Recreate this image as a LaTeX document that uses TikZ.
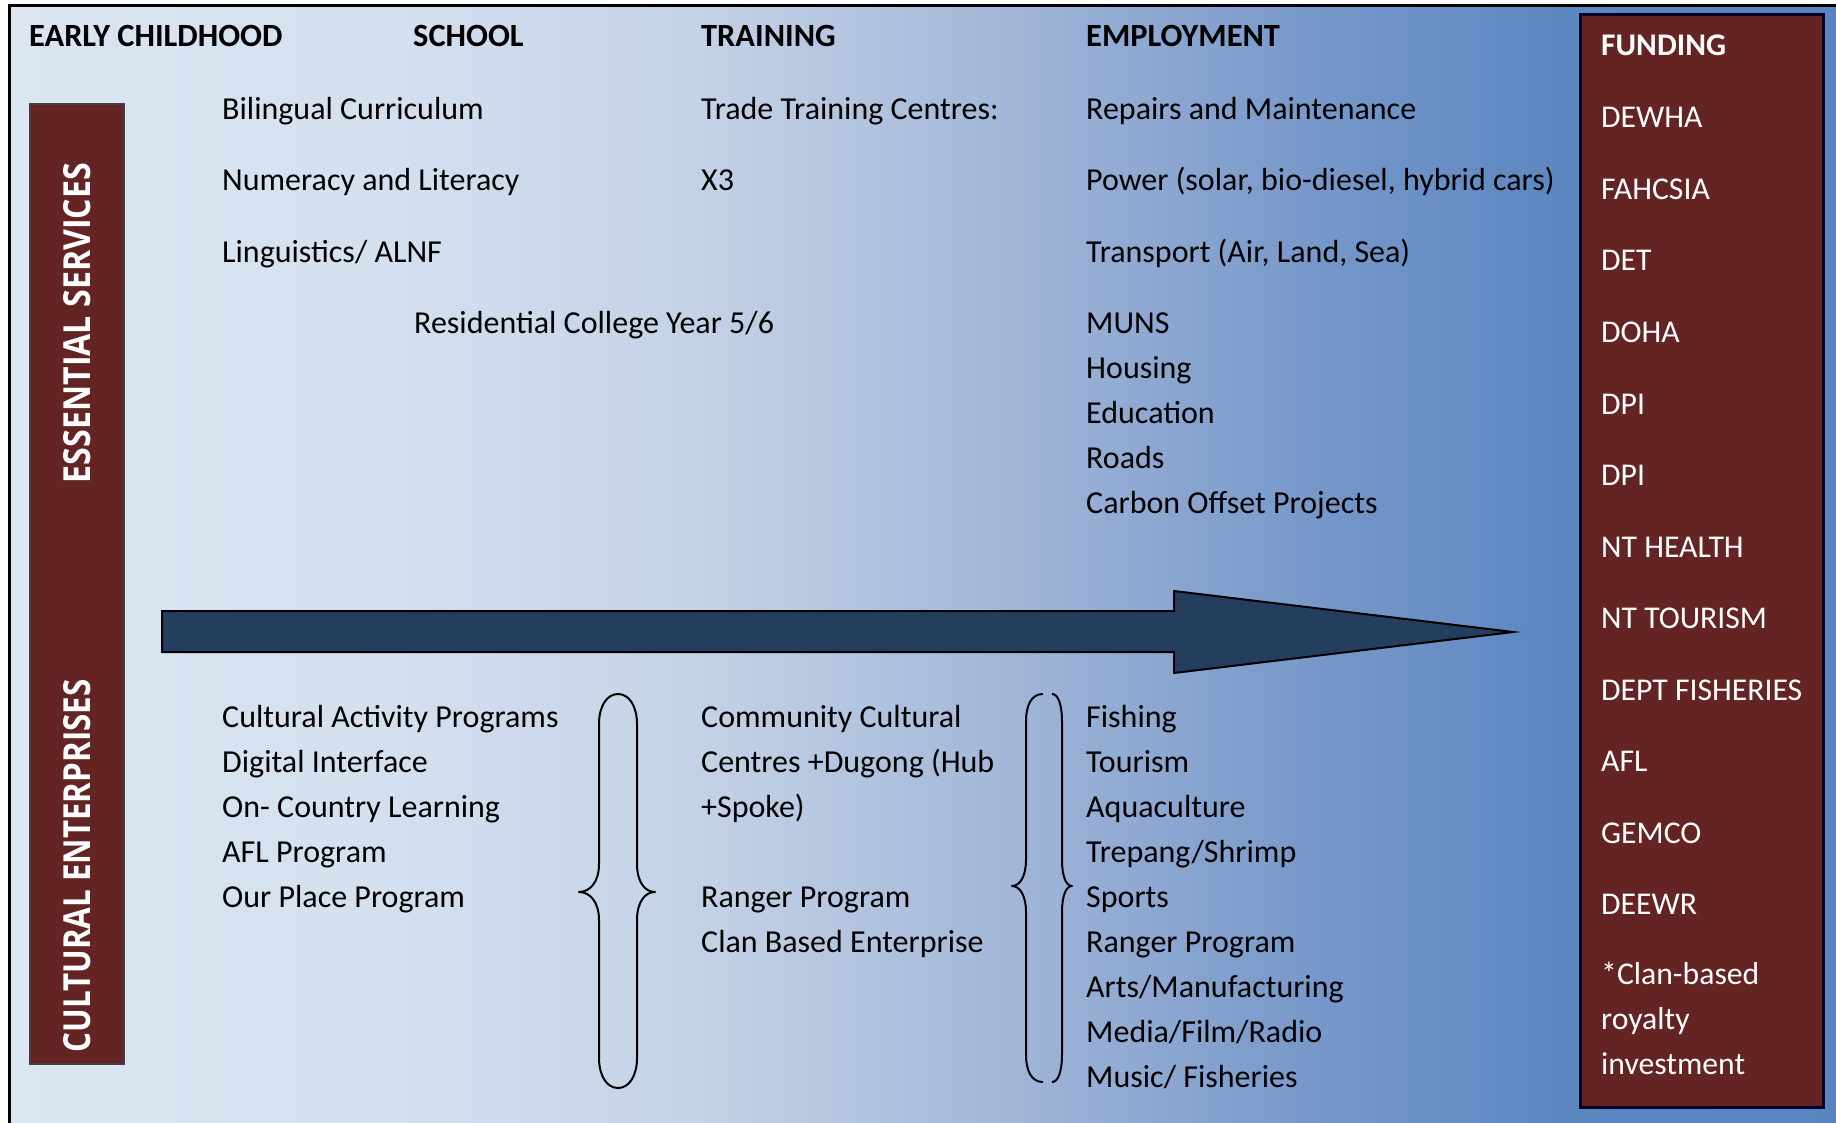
\documentclass[tikz,border=0pt]{standalone}
\usepackage{fontspec}
\setmainfont{Carlito}
\newfontfamily\barfont{Open Sans}
\definecolor{barred}{RGB}{99,36,35}
\definecolor{arrownavy}{RGB}{36,62,94}
\pgfdeclarehorizontalshading{bgfade}{100bp}{rgb(0bp)=(0.863,0.902,0.949); rgb(25bp)=(0.863,0.902,0.949); rgb(35.6bp)=(0.831,0.878,0.937); rgb(43.7bp)=(0.769,0.824,0.902); rgb(51.8bp)=(0.639,0.718,0.847); rgb(59.9bp)=(0.471,0.600,0.792); rgb(66.9bp)=(0.361,0.529,0.757); rgb(75bp)=(0.345,0.518,0.753); rgb(100bp)=(0.345,0.518,0.753)}

\begin{document}
\begin{tikzpicture}[x=1pt,y=-1pt,
    txt/.style={anchor=base west,inner sep=0,font=\fontsize{32}{38}\selectfont},
    head/.style={txt,font=\fontsize{32.4}{38}\selectfont\bfseries},
    fund/.style={txt,text=white,font=\fontsize{31.7}{38}\selectfont},
    sidebar/.style={fill=barred,draw=black!75,line width=2.5},
    brace/.style={draw=black,line width=2,line join=round}]

  \useasboundingbox (0,0) rectangle (1836,1123);

  % Background
  \shadedraw[shading=bgfade,draw=black,line width=3] (9,6) rectangle (1860,1140);

  % Column heads
  \node[head] (hearly) at (29,47) {EARLY CHILDHOOD};
  \node[head] (hschool) at (413,47) {SCHOOL};
  \node[head] (htrain) at (701,47) {TRAINING};
  \node[head] (hemploy) at (1086,47) {EMPLOYMENT};

  % Side bar
  \draw[sidebar] (30,104) rectangle (124,1064);
  \node[rotate=90,anchor=base,inner sep=0,text=white] (essential) at (90,323)
    {\resizebox{320pt}{27pt}{\barfont\bfseries ESSENTIAL SERVICES}};
  \node[rotate=90,anchor=base,inner sep=0,text=white] (cultural) at (90,866)
    {\resizebox{373pt}{27pt}{\barfont\bfseries CULTURAL ENTERPRISES}};

  % Essential services
  \foreach \t [count=\i] in {Bilingual Curriculum, Numeracy and Literacy, Linguistics/ ALNF}
    \node[txt] (school\i) at (222,48+71.5*\i) {\t};
  \node[txt] (college) at (414,333) {Residential College Year 5/6};
  \node[txt] (train1) at (701,119.5) {Trade Training Centres:};
  \node[txt] (train2) at (701,191) {X3};
  \foreach \t [count=\i] in {Repairs and Maintenance, {Power (solar, bio-diesel, hybrid cars)}, {Transport (Air, Land, Sea)}}
    \node[txt] (employ\i) at (1086,48+71.5*\i) {\t};
  \foreach \t [count=\i] in {MUNS, Housing, Education, Roads, Carbon Offset Projects}
    \node[txt] (infra\i) at (1086,288+45*\i) {\t};

  % Arrow
  \draw[fill=arrownavy,draw=black,line width=2,line join=miter]
    (162,611) -- (1174,611) -- (1174,591) -- (1513,632) -- (1174,673) -- (1174,652) -- (162,652) -- cycle;

  % Cultural enterprises
  \foreach \t [count=\i] in {Cultural Activity Programs, Digital Interface, On- Country Learning, AFL Program, Our Place Program}
    \node[txt] (culture\i) at (222,682+45*\i) {\t};
  \foreach \t [count=\i] in {Community Cultural, Centres +Dugong (Hub, +Spoke), , Ranger Program, Clan Based Enterprise}
    \node[txt] (centre\i) at (701,682+45*\i) {\t};
  \foreach \t [count=\i] in {Fishing, Tourism, Aquaculture, Trepang/Shrimp, Sports, Ranger Program, Arts/Manufacturing, Media/Film/Radio, Music/ Fisheries}
    \node[txt] (enter\i) at (1086,682+45*\i) {\t};

  % Braces
  \draw[brace] (618,694) .. controls (607,694) and (599,706) .. (599,724)
    -- (599,864) .. controls (599,882) and (590,892) .. (579,892)
    .. controls (590,892) and (599,902) .. (599,920)
    -- (599,1058) .. controls (599,1076) and (607,1088) .. (618,1088)
    .. controls (629,1088) and (637,1076) .. (637,1058)
    -- (637,920) .. controls (637,902) and (645,892) .. (655,892)
    .. controls (645,892) and (637,882) .. (637,864)
    -- (637,724) .. controls (637,706) and (629,694) .. (618,694) -- cycle;
  \draw[brace] (1043,694) .. controls (1032,694) and (1026,704) .. (1026,722)
    -- (1026,860) .. controls (1026,876) and (1020,886) .. (1012,886)
    .. controls (1020,886) and (1026,896) .. (1026,912)
    -- (1026,1054) .. controls (1026,1072) and (1032,1082) .. (1043,1082);
  \draw[brace] (1052,694) .. controls (1058,694) and (1062,704) .. (1062,722)
    -- (1062,860) .. controls (1062,876) and (1066,886) .. (1072,886)
    .. controls (1066,886) and (1062,896) .. (1062,912)
    -- (1062,1054) .. controls (1062,1072) and (1058,1082) .. (1052,1082);

  % Funding
  \draw[fill=barred,draw=black!85!blue,line width=3] (1580,15) rectangle (1823,1107);
  \node[fund,font=\fontsize{31.5}{38}\selectfont\bfseries] (funding) at (1601,56) {FUNDING};
  \foreach \t [count=\i] in {DEWHA, FAHCSIA, DET, DOHA, DPI, DPI, NT HEALTH, NT TOURISM, DEPT FISHERIES, AFL, GEMCO, DEEWR}
    \node[fund] (fund\i) at (1601,56.5+71.5*\i) {\t};
  \foreach \t [count=\i] in {*Clan-based, royalty, investment}
    \node[fund] (clan\i) at (1601,939+45*\i) {\t};

\end{tikzpicture}
\end{document}
